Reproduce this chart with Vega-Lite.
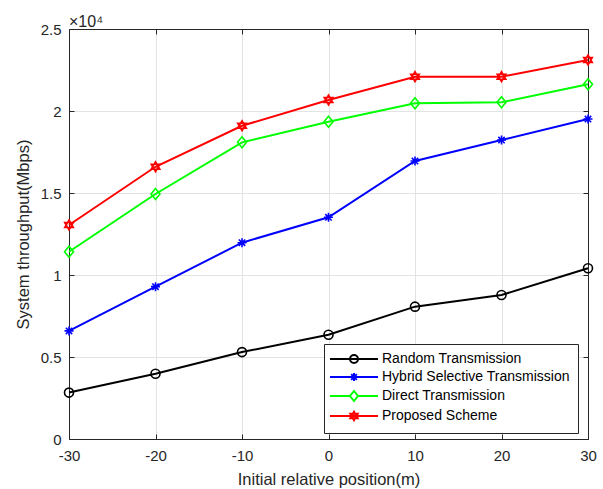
{
  "$schema": "https://vega.github.io/schema/vega-lite/v6.json",
  "width": 519,
  "height": 410,
  "autosize": {"type": "none"},
  "padding": {"left": 69, "top": 29, "right": 15, "bottom": 50},
  "background": "white",
  "config": {"view": {"stroke": null}, "font": "Liberation Sans"},
  "title": {"text": "×10⁴", "anchor": "start", "frame": "group", "fontSize": 16, "fontWeight": "normal", "color": "#262626", "offset": -8, "font": "Liberation Sans"},
  "data": {
    "values": [
      {"position": -30, "throughput": 2830, "scheme": "Random Transmission"},
      {"position": -20, "throughput": 3980, "scheme": "Random Transmission"},
      {"position": -10, "throughput": 5300, "scheme": "Random Transmission"},
      {"position": 0, "throughput": 6360, "scheme": "Random Transmission"},
      {"position": 10, "throughput": 8070, "scheme": "Random Transmission"},
      {"position": 20, "throughput": 8780, "scheme": "Random Transmission"},
      {"position": 30, "throughput": 10410, "scheme": "Random Transmission"},
      {"position": -30, "throughput": 6590, "scheme": "Hybrid Selective Transmission"},
      {"position": -20, "throughput": 9290, "scheme": "Hybrid Selective Transmission"},
      {"position": -10, "throughput": 11970, "scheme": "Hybrid Selective Transmission"},
      {"position": 0, "throughput": 13520, "scheme": "Hybrid Selective Transmission"},
      {"position": 10, "throughput": 16950, "scheme": "Hybrid Selective Transmission"},
      {"position": 20, "throughput": 18230, "scheme": "Hybrid Selective Transmission"},
      {"position": 30, "throughput": 19510, "scheme": "Hybrid Selective Transmission"},
      {"position": -30, "throughput": 11420, "scheme": "Direct Transmission"},
      {"position": -20, "throughput": 14940, "scheme": "Direct Transmission"},
      {"position": -10, "throughput": 18090, "scheme": "Direct Transmission"},
      {"position": 0, "throughput": 19350, "scheme": "Direct Transmission"},
      {"position": 10, "throughput": 20470, "scheme": "Direct Transmission"},
      {"position": 20, "throughput": 20530, "scheme": "Direct Transmission"},
      {"position": 30, "throughput": 21630, "scheme": "Direct Transmission"},
      {"position": -30, "throughput": 13050, "scheme": "Proposed Scheme"},
      {"position": -20, "throughput": 16600, "scheme": "Proposed Scheme"},
      {"position": -10, "throughput": 19100, "scheme": "Proposed Scheme"},
      {"position": 0, "throughput": 20670, "scheme": "Proposed Scheme"},
      {"position": 10, "throughput": 22090, "scheme": "Proposed Scheme"},
      {"position": 20, "throughput": 22090, "scheme": "Proposed Scheme"},
      {"position": 30, "throughput": 23110, "scheme": "Proposed Scheme"}
    ]
  },
  "encoding": {
    "color": {
      "field": "scheme", "type": "nominal",
      "scale": {
        "domain": ["Random Transmission", "Hybrid Selective Transmission", "Direct Transmission", "Proposed Scheme"],
        "range": ["#000000", "#0000ff", "#00ff00", "#ff0000"]
      },
      "legend": {
        "orient": "none", "legendX": 255, "legendY": 315, "title": null, "direction": "vertical",
        "padding": 8, "strokeColor": "#262626", "fillColor": "white",
        "labelFontSize": 14, "labelColor": "#000000", "labelLimit": 400,
        "symbolSize": 100, "symbolStrokeWidth": 2, "symbolOffset": 15, "labelOffset": 21, "rowPadding": 2,
        "encode": {
          "symbols": {
            "update": {
              "shape": {"signal": "datum.value === 'Random Transmission' ? 'M-4.8,0L4.8,0M0.8,0A0.8,0.8 0 1,1 -0.8,0A0.8,0.8 0 1,1 0.8,0Z' : datum.value === 'Hybrid Selective Transmission' ? 'M-4.8,0L4.8,0M0,-0.8L0,0.8M-0.57,-0.57L0.57,0.57M-0.57,0.57L0.57,-0.57' : datum.value === 'Direct Transmission' ? 'M-4.8,0L-0.8,0M0.8,0L4.8,0M0,-1L0.8,0L0,1L-0.8,0Z' : 'M-4.8,0L4.8,0M0,-0.85L0.74,0.43L-0.74,0.43ZM0,0.85L0.74,-0.43L-0.74,-0.43Z'"},
              "fill": {"value": "transparent"},
              "stroke": {"scale": "color", "field": "value"},
              "strokeWidth": {"value": 2},
              "size": {"value": 100}
            }
          }
        }
      }
    }
  },
  "layer": [
    {
      "mark": {"type": "line", "strokeWidth": 2},
      "encoding": {
        "x": {
          "field": "position", "type": "quantitative",
          "scale": {"domain": [-30, 30], "nice": false, "zero": false},
          "axis": {
            "orient": "bottom", "values": [-30, -20, -10, 0, 10, 20, 30], "labelExpr": "'' + datum.value",
            "tickSize": -5, "labelPadding": 14, "labelFontSize": 15, "labelColor": "#262626", "labelFlush": false,
            "title": "Initial relative position(m)", "titleFontSize": 16.5, "titleFontWeight": "normal", "titleColor": "#262626", "titlePadding": 8,
            "domainColor": "#262626", "tickColor": "#262626", "grid": true, "gridColor": "#e3e3e3"
          }
        },
        "y": {
          "field": "throughput", "type": "quantitative",
          "scale": {"domain": [0, 25000], "nice": false},
          "axis": {
            "orient": "left", "values": [0, 5000, 10000, 15000, 20000, 25000],
            "labelExpr": "'' + (datum.value / 10000)",
            "tickSize": -5, "labelPadding": 13, "labelFontSize": 15, "labelColor": "#262626", "labelFlush": false,
            "title": "System throughput(Mbps)", "titleFontSize": 16.5, "titleFontWeight": "normal", "titleColor": "#262626", "titlePadding": 9,
            "domainColor": "#262626", "tickColor": "#262626", "grid": true, "gridColor": "#e3e3e3"
          }
        }
      }
    },
    {
      "transform": [{"filter": "datum.scheme === 'Random Transmission'"}],
      "mark": {"type": "point", "filled": false, "strokeWidth": 1.6, "size": 100, "opacity": 1, "shape": "M0.9,0A0.9,0.9 0 1,1 -0.9,0A0.9,0.9 0 1,1 0.9,0Z"},
      "encoding": {
        "x": {
          "field": "position", "type": "quantitative",
          "axis": {
            "orient": "top", "values": [-30, -20, -10, 0, 10, 20, 30], "labels": false, "title": null,
            "tickSize": -5, "grid": false, "domainColor": "#262626", "tickColor": "#262626"
          }
        },
        "y": {
          "field": "throughput", "type": "quantitative",
          "axis": {
            "orient": "right", "values": [0, 5000, 10000, 15000, 20000, 25000], "labels": false, "title": null,
            "tickSize": -5, "grid": false, "domainColor": "#262626", "tickColor": "#262626"
          }
        }
      }
    },
    {
      "transform": [{"filter": "datum.scheme === 'Hybrid Selective Transmission'"}],
      "mark": {"type": "point", "filled": false, "strokeWidth": 1.6, "size": 100, "opacity": 1, "shape": "M-0.9,0L0.9,0M0,-0.9L0,0.9M-0.64,-0.64L0.64,0.64M-0.64,0.64L0.64,-0.64"},
      "encoding": {
        "x": {"field": "position", "type": "quantitative", "axis": null},
        "y": {"field": "throughput", "type": "quantitative", "axis": null}
      }
    },
    {
      "transform": [{"filter": "datum.scheme === 'Direct Transmission'"}],
      "mark": {"type": "point", "filled": false, "strokeWidth": 1.6, "size": 100, "opacity": 1, "shape": "M0,-1.1L0.9,0L0,1.1L-0.9,0Z"},
      "encoding": {
        "x": {"field": "position", "type": "quantitative", "axis": null},
        "y": {"field": "throughput", "type": "quantitative", "axis": null}
      }
    },
    {
      "transform": [{"filter": "datum.scheme === 'Proposed Scheme'"}],
      "mark": {"type": "point", "filled": false, "strokeWidth": 1.6, "size": 100, "opacity": 1, "shape": "M0,-1L0.866,0.5L-0.866,0.5ZM0,1L0.866,-0.5L-0.866,-0.5Z"},
      "encoding": {
        "x": {"field": "position", "type": "quantitative", "axis": null},
        "y": {"field": "throughput", "type": "quantitative", "axis": null}
      }
    }
  ],
  "resolve": {"axis": {"x": "independent", "y": "independent"}}
}
